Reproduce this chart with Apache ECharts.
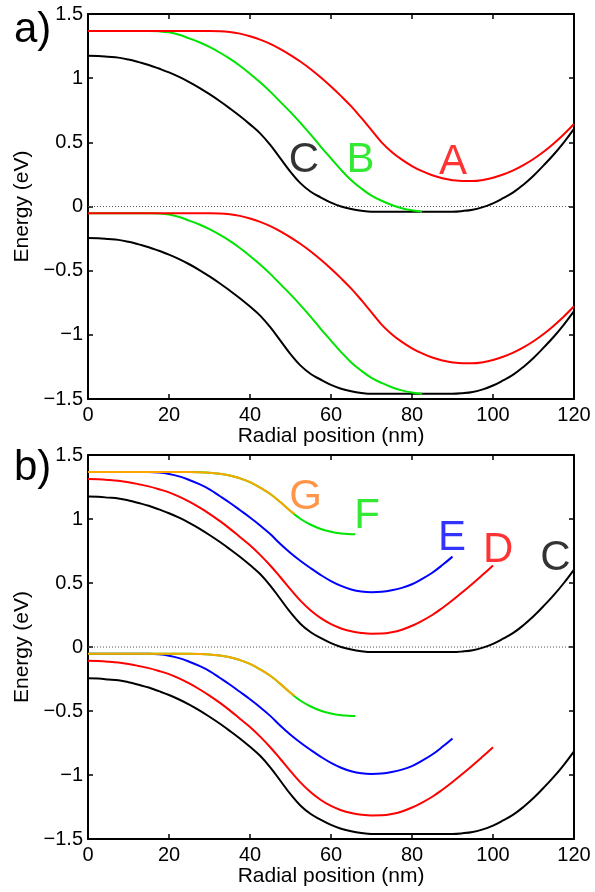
<!DOCTYPE html>
<html>
<head>
<meta charset="utf-8">
<script src="https://cdn.jsdelivr.net/npm/echarts@6/dist/echarts.min.js"></script>
<style>
  html, body { margin: 0; padding: 0; background: #fff; }
  #chart { width: 595px; height: 892px; }
</style>
</head>
<body>
<div id="chart"></div>
<script>
// Axis ticks (nm, eV)
const xTicks = [0, 20, 40, 60, 80, 100, 120];
const yTicks = [-1.5, -1, -0.5, 0, 0.5, 1, 1.5];

// ---- Profile A (panel a) ----
const xA = [0,10,20,30,32.5,35,37.5,40,42.5,45,47.5,50,52.5,55,57.5,60,62.5,65,67.5,70,72.5,75,77.5,80,82.5,85,87.5,90,92.5,95,97.5,100,102.5,105,107.5,110,112.5,115,117.5,120];
const cbA = [1.367,1.367,1.367,1.367,1.366,1.36,1.347,1.327,1.30,1.267,1.227,1.18,1.128,1.07,1.005,0.935,0.86,0.78,0.69,0.595,0.5,0.425,0.365,0.315,0.275,0.243,0.22,0.205,0.198,0.198,0.207,0.224,0.249,0.281,0.322,0.37,0.426,0.491,0.563,0.643];
const vbA = [-0.053,-0.053,-0.053,-0.053,-0.054,-0.06,-0.073,-0.093,-0.12,-0.153,-0.193,-0.24,-0.292,-0.35,-0.415,-0.485,-0.56,-0.64,-0.73,-0.825,-0.92,-0.995,-1.055,-1.105,-1.145,-1.177,-1.2,-1.215,-1.222,-1.222,-1.213,-1.196,-1.171,-1.139,-1.098,-1.05,-0.994,-0.929,-0.857,-0.777];

// ---- Profile B (panel a) ----
const xB = [0,10,15,17.5,20,22.5,25,27.5,30,32.5,35,37.5,40,42.5,45,47.5,50,52.5,55,57.5,60,62.5,65,67.5,70,72.5,75,77.5,80,82.5];
const cbB = [1.367,1.367,1.367,1.365,1.357,1.338,1.31,1.28,1.243,1.2,1.152,1.097,1.035,0.968,0.895,0.815,0.735,0.65,0.56,0.465,0.375,0.285,0.205,0.14,0.085,0.045,0.012,-0.013,-0.03,-0.04];
const vbB = [-0.053,-0.053,-0.053,-0.055,-0.063,-0.082,-0.11,-0.14,-0.177,-0.22,-0.268,-0.323,-0.385,-0.452,-0.525,-0.605,-0.685,-0.77,-0.86,-0.955,-1.045,-1.135,-1.215,-1.28,-1.335,-1.375,-1.408,-1.433,-1.45,-1.46];

// ---- Profile C (both panels) ----
const xC = [0,2.5,5,7.5,10,12.5,15,17.5,20,22.5,25,27.5,30,32.5,35,37.5,40,42.5,45,47.5,50,52.5,55,57.5,60,62.5,65,67.5,70,75,80,85,90,92.5,95,97.5,100,102.5,105,107.5,110,112.5,115,117.5,120];
const cbC = [1.175,1.173,1.167,1.16,1.145,1.125,1.103,1.075,1.045,1.01,0.97,0.925,0.875,0.822,0.765,0.705,0.64,0.57,0.48,0.375,0.27,0.18,0.115,0.07,0.03,0.0,-0.02,-0.033,-0.04,-0.04,-0.04,-0.04,-0.04,-0.035,-0.025,-0.005,0.025,0.065,0.11,0.17,0.24,0.32,0.405,0.5,0.605];
const vbC = [-0.245,-0.247,-0.253,-0.26,-0.275,-0.295,-0.317,-0.345,-0.375,-0.41,-0.45,-0.495,-0.545,-0.598,-0.655,-0.715,-0.78,-0.85,-0.94,-1.045,-1.15,-1.24,-1.305,-1.35,-1.39,-1.42,-1.44,-1.453,-1.46,-1.46,-1.46,-1.46,-1.46,-1.455,-1.445,-1.425,-1.395,-1.355,-1.31,-1.25,-1.18,-1.10,-1.015,-0.92,-0.815];

// ---- Profile D (panel b) ----
const xD = [0,2.5,5,7.5,10,12.5,15,17.5,20,22.5,25,27.5,30,32.5,35,37.5,40,42.5,45,47.5,50,52.5,55,57.5,60,62.5,65,67.5,70,72.5,75,77.5,80,82.5,85,87.5,90,92.5,95,97.5,100];
const cbD = [1.312,1.31,1.305,1.298,1.287,1.272,1.255,1.233,1.208,1.175,1.135,1.09,1.04,0.985,0.925,0.86,0.795,0.72,0.637,0.545,0.45,0.36,0.285,0.225,0.178,0.145,0.123,0.11,0.104,0.105,0.115,0.135,0.166,0.205,0.25,0.305,0.365,0.43,0.497,0.566,0.636];
const vbD = [-0.108,-0.11,-0.115,-0.122,-0.133,-0.148,-0.165,-0.187,-0.212,-0.245,-0.285,-0.33,-0.38,-0.435,-0.495,-0.56,-0.625,-0.7,-0.783,-0.875,-0.97,-1.06,-1.135,-1.195,-1.242,-1.275,-1.297,-1.31,-1.316,-1.315,-1.305,-1.285,-1.254,-1.215,-1.17,-1.115,-1.055,-0.99,-0.923,-0.854,-0.784];

// ---- Profile E (panel b) ----
const xE = [0,10,15,17.5,20,22.5,25,27.5,30,32.5,35,37.5,40,42.5,45,47.5,50,52.5,55,57.5,60,62.5,65,67.5,70,72.5,75,77.5,80,82.5,85,87.5,90];
const cbE = [1.367,1.367,1.367,1.363,1.352,1.333,1.305,1.272,1.232,1.18,1.127,1.07,1.012,0.95,0.882,0.805,0.735,0.672,0.615,0.562,0.515,0.477,0.449,0.433,0.428,0.431,0.443,0.462,0.49,0.532,0.58,0.64,0.706];
const vbE = [-0.053,-0.053,-0.053,-0.057,-0.068,-0.087,-0.115,-0.148,-0.188,-0.24,-0.293,-0.35,-0.408,-0.47,-0.538,-0.615,-0.685,-0.748,-0.805,-0.858,-0.905,-0.943,-0.971,-0.987,-0.992,-0.989,-0.977,-0.958,-0.93,-0.888,-0.84,-0.78,-0.714];

// ---- Profile F (panel b) ----
const xF = [0,10,20,25,27.5,30,32.5,35,37.5,40,42.5,45,47.5,50,52.5,55,57.5,60,62.5,65,66];
const cbF = [1.367,1.367,1.367,1.367,1.366,1.362,1.353,1.34,1.318,1.288,1.245,1.195,1.132,1.062,1.0,0.955,0.922,0.9,0.887,0.881,0.88];
const vbF = [-0.053,-0.053,-0.053,-0.053,-0.054,-0.058,-0.067,-0.08,-0.102,-0.132,-0.175,-0.225,-0.288,-0.358,-0.42,-0.465,-0.498,-0.52,-0.533,-0.539,-0.54];

// ---- Profile G (panel b) ----
const xG = [0,10,20,25,27.5,30,32.5,35,37.5,40,42.5,45,47.5,50,51];
const cbG = [1.367,1.367,1.367,1.367,1.366,1.362,1.353,1.34,1.318,1.288,1.245,1.195,1.132,1.062,1.04];
const vbG = [-0.053,-0.053,-0.053,-0.053,-0.054,-0.058,-0.067,-0.08,-0.102,-0.132,-0.175,-0.225,-0.288,-0.358,-0.38];

// Curve letters: [letter, x (nm), energy (eV)]
const lettersTop = [['C', 53.3, 0.38], ['B', 67.3, 0.38], ['A', 90.1, 0.37]];
const lettersBottom = [['G', 53.7, 1.195], ['F', 68.9, 1.04], ['E', 89.9, 0.875], ['D', 101.3, 0.775], ['C', 115.4, 0.712]];

const COLORS = { A: '#ff0000', B: '#00e400', C: '#000000', D: '#ff0000', E: '#0000ff', F: '#00e400', G: '#ffa500' };
const LETTER_COLORS = { A: '#ff0000', B: '#00e400', C: '#000000', D: '#ff0000', E: '#0000ff', F: '#00e400', G: '#ff7a1a' };
const FONT = '"Liberation Sans", Arial, Helvetica, sans-serif';

const pairs = (xs, ys) => xs.map((x, i) => [x, ys[i]]);
const fmtNum = v => String(v).replace('-', '\u2212');

function bandSeries(key, xs, ys, grid) {
  return {
    type: 'line', name: key, xAxisIndex: grid * 2, yAxisIndex: grid * 2,
    data: pairs(xs, ys), smooth: 0.4, symbol: 'none', silent: true,
    lineStyle: { color: COLORS[key], width: 2 }, emphasis: { disabled: true }, z: 3
  };
}

// Dotted reference line at E = 0
function zeroLine(grid) {
  return {
    type: 'line', xAxisIndex: grid * 2, yAxisIndex: grid * 2,
    data: [[xTicks[0], 0], [xTicks[xTicks.length - 1], 0]], symbol: 'none', silent: true,
    lineStyle: { color: '#555555', width: 1, type: [1, 2] }, z: 2
  };
}

function letterSeries(list, grid) {
  return {
    type: 'scatter', xAxisIndex: grid * 2, yAxisIndex: grid * 2, symbolSize: 0, silent: true, z: 5,
    data: list.map(([t, x, y]) => ({
      value: [x, y],
      label: { show: true, formatter: t, position: 'inside', color: LETTER_COLORS[t], offset: [0, 3],
               fontSize: 42, fontFamily: FONT, align: 'center', verticalAlign: 'middle' }
    }))
  };
}

const grids = [
  { left: 88, right: 21, top: 14, height: 385 },
  { left: 88, right: 21, top: 455, height: 384 }
];

const axisLine = { show: true, onZero: false, lineStyle: { color: '#000', width: 2 } };
const axisTick = { show: true, inside: true, length: 5, lineStyle: { color: '#000', width: 1.5 } };
const tickFont = { color: '#000', fontSize: 20, fontFamily: FONT };

const xAxes = [], yAxes = [];
grids.forEach((g, i) => {
  const xBase = { type: 'value', gridIndex: i, min: xTicks[0], max: xTicks[xTicks.length - 1], interval: 20,
                  axisLine, axisTick, splitLine: { show: false } };
  const yBase = { type: 'value', gridIndex: i, min: yTicks[0], max: yTicks[yTicks.length - 1], interval: 0.5,
                  axisLine, axisTick, splitLine: { show: false } };
  xAxes.push(Object.assign({}, xBase, {
    position: 'bottom',
    axisLabel: Object.assign({ margin: 6, formatter: fmtNum }, tickFont),
    name: 'Radial position (nm)', nameLocation: 'middle', nameGap: 27,
    nameTextStyle: { color: '#000', fontSize: 21, fontFamily: FONT }
  }));
  xAxes.push(Object.assign({}, xBase, { position: 'top', axisLabel: { show: false } }));
  yAxes.push(Object.assign({}, yBase, {
    position: 'left',
    axisLabel: Object.assign({ margin: 5, formatter: fmtNum }, tickFont),
    name: 'Energy (eV)', nameLocation: 'middle', nameGap: 45, nameRotate: 90,
    nameTextStyle: { color: '#000', fontSize: 21, fontFamily: FONT }
  }));
  yAxes.push(Object.assign({}, yBase, { position: 'right', axisLabel: { show: false } }));
});

const series = [
  zeroLine(0),
  bandSeries('C', xC, cbC, 0), bandSeries('C', xC, vbC, 0),
  bandSeries('B', xB, cbB, 0), bandSeries('B', xB, vbB, 0),
  bandSeries('A', xA, cbA, 0), bandSeries('A', xA, vbA, 0),
  letterSeries(lettersTop, 0),
  zeroLine(1),
  bandSeries('C', xC, cbC, 1), bandSeries('C', xC, vbC, 1),
  bandSeries('D', xD, cbD, 1), bandSeries('D', xD, vbD, 1),
  bandSeries('E', xE, cbE, 1), bandSeries('E', xE, vbE, 1),
  bandSeries('F', xF, cbF, 1), bandSeries('F', xF, vbF, 1),
  bandSeries('G', xG, cbG, 1), bandSeries('G', xG, vbG, 1),
  letterSeries(lettersBottom, 1)
];

const chart = echarts.init(document.getElementById('chart'), null, { renderer: 'canvas' });
chart.setOption({
  animation: false,
  backgroundColor: '#fff',
  grid: grids,
  xAxis: xAxes,
  yAxis: yAxes,
  series,
  graphic: [
    { type: 'text', left: 14, top: 9, style: { text: 'a)', fontSize: 42, fontFamily: FONT, fill: '#000' } },
    { type: 'text', left: 14, top: 447, style: { text: 'b)', fontSize: 42, fontFamily: FONT, fill: '#000' } }
  ]
});
</script>
</body>
</html>
